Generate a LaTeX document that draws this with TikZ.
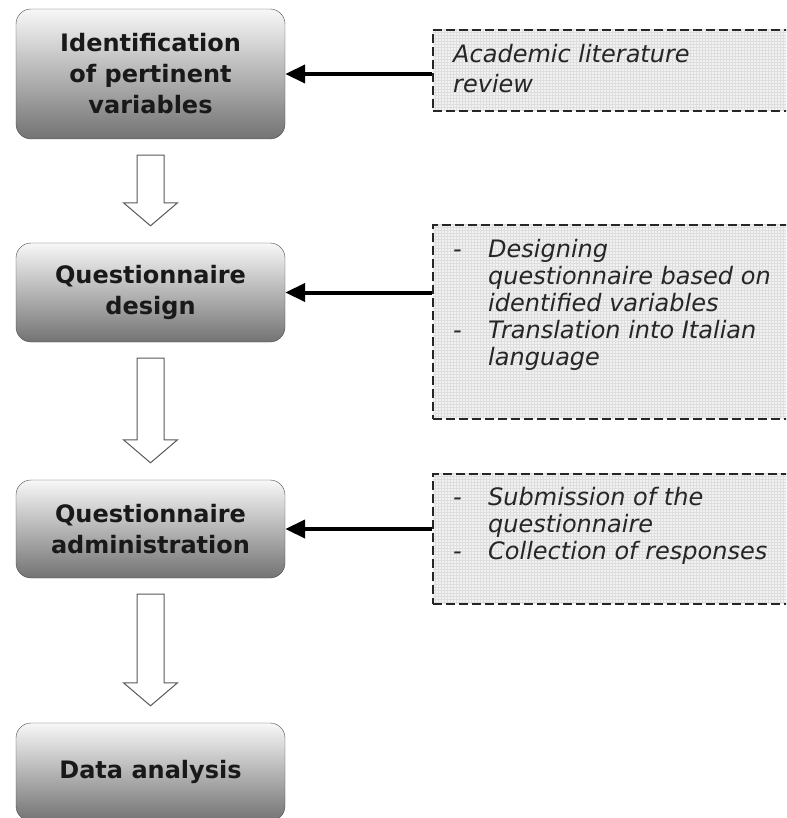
\documentclass[tikz,border=0pt]{standalone}
\usepackage{fontspec}
\setmainfont{DejaVu Sans}
\usetikzlibrary{arrows.meta,patterns}

\newcommand\hollowarrow[2]{%
\draw[hollow] ([xshift=-13.5pt,yshift=-16pt]#1.south) -- ([xshift=13.5pt,yshift=-16pt]#1.south)
  -- ([xshift=13.5pt,yshift=40pt]#2.north) -- ([xshift=27pt,yshift=40pt]#2.north)
  -- ([yshift=17pt]#2.north) -- ([xshift=-27pt,yshift=40pt]#2.north)
  -- ([xshift=-13.5pt,yshift=40pt]#2.north) -- cycle;}

\begin{document}
\begin{tikzpicture}[x=1pt,y=-1pt,
  stepbox/.style={draw=black!70, rounded corners=15pt, top color=black!3, bottom color=black!55,
    minimum width=269pt, align=center, text=black!90, font=\fontsize{24}{31}\selectfont\bfseries},
  notebox/.style={draw=black!85, line width=1.6pt, dash pattern=on 9pt off 4pt,
    preaction={fill=black!5}, pattern=grid, pattern color=black!13,
    minimum width=380pt, anchor=north west, inner sep=0pt},
  notetext/.style={anchor=north west, inner sep=0pt, text=black!85,
    font=\fontsize{24}{27}\selectfont\itshape},
  feed/.style={line width=4pt, -{Triangle[length=20pt,width=18pt]}},
  hollow/.style={draw=black!65, fill=white, line width=1pt}]
\useasboundingbox (0,0) rectangle (786,818);
\clip (0,0) rectangle (786,818);

\node[stepbox, minimum height=130pt] (b1) at (150.5,74) {Identification\\of pertinent\\variables};
\node[stepbox, minimum height=99pt] (b2) at (150.5,292.5) {Questionnaire\\design};
\node[stepbox, minimum height=98pt] (b3) at (150.5,529) {Questionnaire\\administration};
\node[stepbox, minimum height=98pt] (b4) at (150.5,772) {Data analysis};

\node[notebox, minimum height=81pt] (r1) at (432,29) {};
\node[notebox, minimum height=194pt] (r2) at (432,224) {};
\node[notebox, minimum height=130pt] (r3) at (432,473) {};

\node[notetext] (n1) at (453,43) {\begin{tabular}{@{}l@{}}Academic literature\\[3pt] review\end{tabular}};
\node[notetext] (n2) at (453,238) {\begin{tabular}{@{}p{35pt}@{}l@{}}
- & Designing\\ & questionnaire based on\\ & identified variables\\
- & Translation into Italian\\ & language\end{tabular}};
\node[notetext] (n3) at (453,486) {\begin{tabular}{@{}p{35pt}@{}l@{}}
- & Submission of the\\ & questionnaire\\
- & Collection of responses\end{tabular}};

\draw[feed] (r1.west |- b1.east) -- (b1.east);
\draw[feed] (r2.west |- b2.east) -- (b2.east);
\draw[feed] (r3.west |- b3.east) -- (b3.east);

\hollowarrow{b1}{b2}
\hollowarrow{b2}{b3}
\hollowarrow{b3}{b4}

\end{tikzpicture}
\end{document}
